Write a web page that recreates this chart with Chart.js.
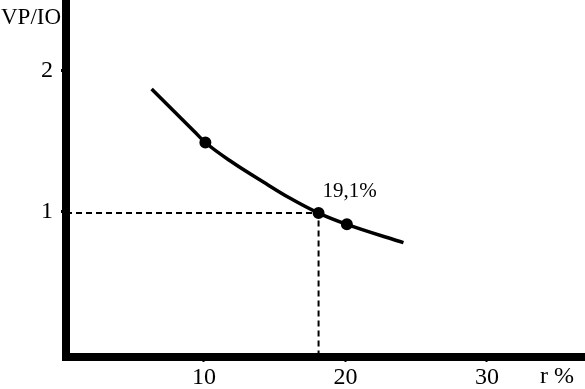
<!DOCTYPE html>
<html lang="en">
<head>
    <meta charset="UTF-8">
    <title>VP/IO vs r %</title>
    <script src="https://cdn.jsdelivr.net/npm/chart.js"></script>
    <style>
        body { margin: 0; background: #fff; }
        .chart-container { width: 585px; height: 389px; position: relative; }
    </style>
</head>
<body>
    <div class="chart-container"><canvas id="chart"></canvas></div>

    <script>
        // values
        const curveX = [6.3, 9.3, 10.1, 12.0, 14.2, 16.0, 18.1, 20.1, 24.1];
        const curveY = [1.87, 1.57, 1.49, 1.35, 1.21, 1.10, 0.99, 0.91, 0.78];
        const pointX = [10.1, 18.1, 20.1];
        const pointY = [1.49, 0.99, 0.91];
        const markIndex = 1;
        const markLabel = '19,1%';
        const xTicks = [10, 20, 30];
        const yTicks = [1, 2];
        const yTitle = 'VP/IO';
        const xTitle = 'r %';

        const serif = '"Liberation Serif", "DejaVu Serif", serif';
        const xMin = 0.25, xMax = 36.93, yMin = -0.03, yMax = 2.5;

        const curve = curveX.map((x, i) => ({ x: x, y: curveY[i] }));
        const points = pointX.map((x, i) => ({ x: x, y: pointY[i] }));
        const guide = [
            { x: xMin, y: pointY[markIndex] },
            { x: pointX[markIndex], y: pointY[markIndex] },
            { x: pointX[markIndex], y: yMin }
        ];

        const textPlugin = {
            id: 'texts',
            afterDatasetsDraw(chart) {
                const ctx = chart.ctx;
                const xs = chart.scales.x, ys = chart.scales.y;
                ctx.save();
                ctx.fillStyle = '#000';
                ctx.textBaseline = 'alphabetic';
                ctx.textAlign = 'left';
                ctx.font = '21px ' + serif;
                ctx.fillText(markLabel, xs.getPixelForValue(pointX[markIndex]) + 4,
                    ys.getPixelForValue(pointY[markIndex]) - 16);
                ctx.font = '23px ' + serif;
                ctx.fillText(yTitle, 1, 24);
                ctx.font = '24px ' + serif;
                ctx.fillText(xTitle, 540, 383);
                ctx.restore();
            }
        };

        new Chart(document.getElementById('chart'), {
            type: 'line',
            data: {
                datasets: [
                    {
                        data: guide,
                        borderColor: '#000',
                        borderWidth: 2,
                        borderDash: [6, 4],
                        pointRadius: 0,
                        fill: false
                    },
                    {
                        data: curve,
                        borderColor: '#000',
                        borderWidth: 3.5,
                        cubicInterpolationMode: 'monotone',
                        pointRadius: 0,
                        fill: false
                    },
                    {
                        data: points,
                        showLine: false,
                        pointRadius: 9,
                        pointBackgroundColor: '#000',
                        pointBorderColor: '#fff',
                        pointBorderWidth: 6,
                        pointHoverRadius: 9
                    }
                ]
            },
            options: {
                responsive: true,
                maintainAspectRatio: false,
                animation: false,
                layout: { padding: 0, autoPadding: false },
                plugins: { legend: { display: false }, tooltip: { enabled: false } },
                scales: {
                    x: {
                        type: 'linear',
                        min: xMin,
                        max: xMax,
                        afterBuildTicks: s => { s.ticks = xTicks.map(v => ({ value: v })); },
                        afterFit: s => { s.height = 32; s.paddingLeft = 0; s.paddingRight = 0; },
                        grid: { drawOnChartArea: false, color: '#000', tickLength: 5, tickWidth: 2 },
                        border: { display: true, color: '#000', width: 8 },
                        ticks: { color: '#000', padding: 1, font: { family: serif, size: 24 }, maxRotation: 0 }
                    },
                    y: {
                        type: 'linear',
                        min: yMin,
                        max: yMax,
                        afterBuildTicks: s => { s.ticks = yTicks.map(v => ({ value: v })); },
                        afterFit: s => { s.width = 66; s.paddingTop = 0; s.paddingBottom = 0; },
                        grid: { drawOnChartArea: false, color: '#000', tickLength: 5, tickWidth: 3 },
                        border: { display: true, color: '#000', width: 8 },
                        ticks: { color: '#000', padding: 8, font: { family: serif, size: 24 } }
                    }
                }
            },
            plugins: [textPlugin]
        });
    </script>
</body>
</html>
